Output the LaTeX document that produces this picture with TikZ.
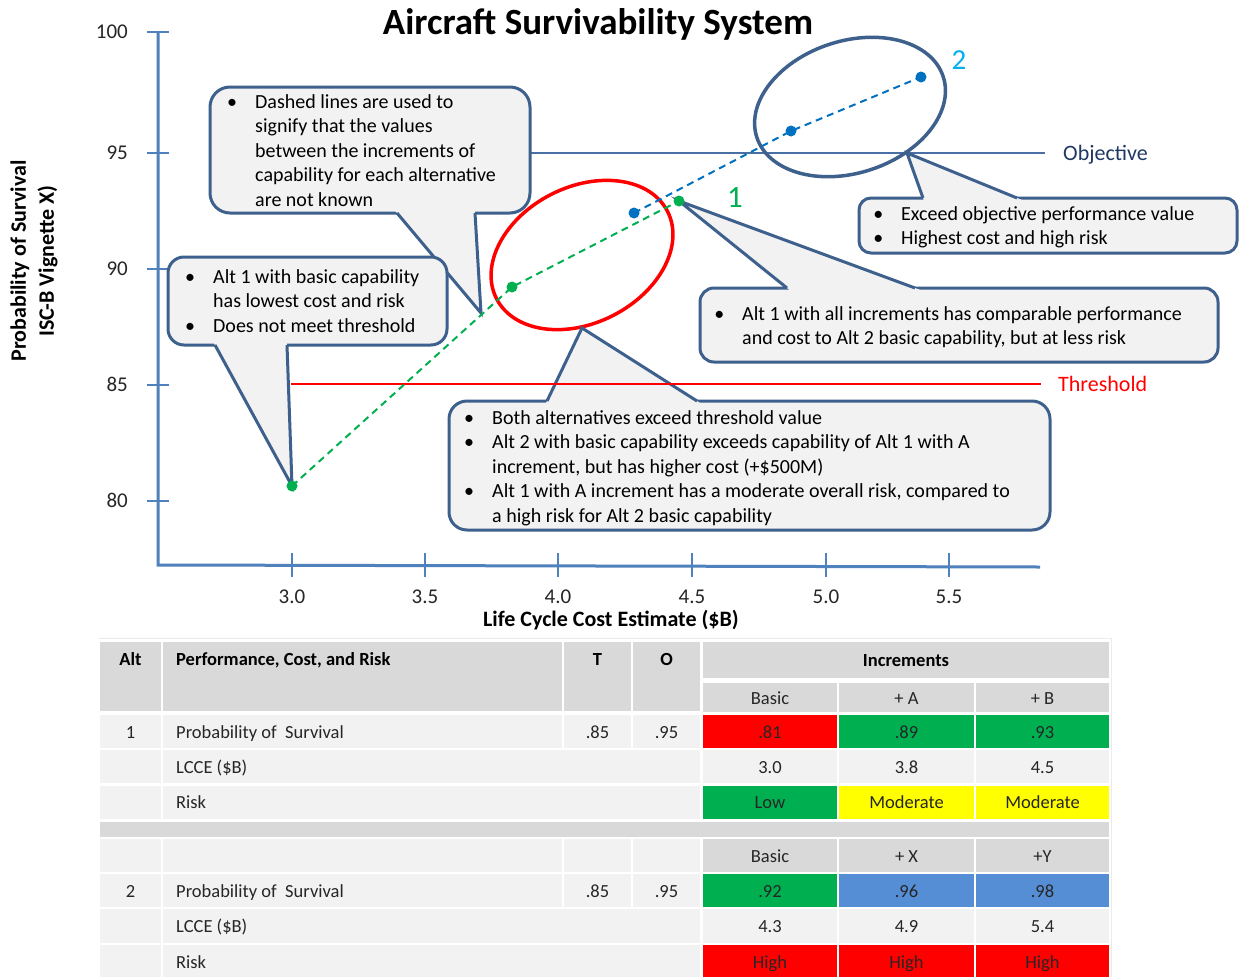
\documentclass[tikz,border=0pt]{standalone}
\usepackage{fontspec}
\setmainfont{Carlito}
\usetikzlibrary{calc}
\definecolor{cline}{RGB}{62,96,140}
\definecolor{cfill}{RGB}{242,242,242}
\definecolor{axisc}{RGB}{79,129,189}
\definecolor{objc}{RGB}{74,111,165}
\definecolor{navyc}{RGB}{31,56,100}
\definecolor{ggreen}{RGB}{0,176,80}
\definecolor{bblue}{RGB}{0,112,192}
\definecolor{cyanl}{RGB}{0,176,240}
\definecolor{hgray}{RGB}{217,217,217}
\definecolor{lgray}{RGB}{242,242,242}
\definecolor{tred}{RGB}{255,0,0}
\definecolor{tyel}{RGB}{255,255,0}
\definecolor{tblue}{RGB}{85,142,213}
\definecolor{txt}{RGB}{38,38,38}
\newcommand\cfs{\fontsize{20}{24.5}\selectfont}
\newcommand\tfs{\fontsize{18.5}{22}\selectfont}
\newcommand\bul{\llap{•\hspace{18pt}}}
\newcommand\pointer[3]{%
  \fill[cfill] ($(#2)!1.07!(#1)$) -- (#2) -- ($(#2)!1.07!(#3)$) -- cycle;
  \draw[cside] (#1) -- (#2) -- (#3);}
\begin{document}
\begin{tikzpicture}[x=1pt,y=-1pt,
  cbox/.style={draw=cline, fill=cfill, line width=3pt, inner sep=0pt},
  cside/.style={draw=cline, line width=3pt, line join=miter},
  ctext/.style={anchor=base west, inner sep=0pt, font=\cfs, text=black},
  axl/.style={draw=axisc, line width=3pt},
  tickm/.style={draw=axisc, line width=2.5pt},
  ticklab/.style={font=\fontsize{21}{24}\selectfont, text=txt, inner sep=0pt, text height=13pt, text depth=0pt},
  axtitle/.style={font=\bfseries\fontsize{22}{28}\selectfont, text=black, inner sep=0pt, align=center},
  gdash/.style={draw=ggreen, line width=2pt, dash pattern=on 7pt off 5pt},
  bdash/.style={draw=bblue, line width=2pt, dash pattern=on 7pt off 5pt},
  tt/.style={font=\tfs, text=txt, inner sep=0pt, text height=12pt, text depth=0pt},
  th/.style={font=\bfseries\tfs, text=black, inner sep=0pt, text height=12pt, text depth=0pt}]
\useasboundingbox (0,0) rectangle (1239,977);
\fill[white] (0,0) rectangle (1239,977);

% title
\node[font=\bfseries\fontsize{37}{40}\selectfont, anchor=base, inner sep=0pt] (title) at (598,34) {Aircraft Survivability System};

% axes
\coordinate (o) at (158,565);
\coordinate (ytop) at (158,32);
\coordinate (xend) at (1040,567);
\draw[axl] (ytop) -- (o) -- (xend);
\foreach \v/\y in {100/32,95/153,90/269,85/385,80/501}{
  \draw[tickm] (147,\y) -- (169,\y);
  \node[ticklab, anchor=east] (yl\v) at (128,\y) {\v};
}
\foreach \v/\x in {3.0/292,3.5/425,4.0/558,4.5/692,5.0/826,5.5/949}{
  \draw[tickm] (\x,553) -- (\x,577);
  \node[ticklab] (xl\v) at (\x,597) {\v};
}
\node[axtitle] (xtitle) at (611,620) {Life Cycle Cost Estimate (\$B)};
\node[axtitle, rotate=90] (ytitle) at (34,261) {Probability of Survival\\ISC-B Vignette X)};

% objective line
\coordinate (objL) at (530,153);
\coordinate (objR) at (1045,153);
\draw[draw=objc, line width=2pt] (objL) -- (objR);
\node[font=\fontsize{22}{26}\selectfont, text=navyc, anchor=base west, inner sep=0pt] (objlab) at (1063,160) {Objective};

% ellipses
\coordinate (ecR) at (582,255);
\coordinate (ecB) at (850,107);
\draw[draw=tred, line width=3.5pt, rotate around={27:(ecR)}] (ecR) ellipse [x radius=96pt, y radius=68pt];
\draw[draw=cline, line width=3.5pt, rotate around={18:(ecB)}] (ecB) ellipse [x radius=98pt, y radius=66pt];

% data coordinates
\coordinate (g1) at (292,486);
\coordinate (g2) at (512,287);
\coordinate (g3) at (679,201);
\coordinate (b1) at (634,213);
\coordinate (b2) at (791,131);
\coordinate (b3) at (921,77);

% callout A
\node[cbox, rounded corners=20pt, minimum width=320pt, minimum height=126pt] (cA) at (370,150) {};
\coordinate (pA1) at (397,213); \coordinate (tipA) at (481,313); \coordinate (pA2) at (475,213);
\pointer{pA1}{tipA}{pA2}
\node[ctext] (tA) at (255,108) {\begin{tabular}[t]{@{}l@{}}\bul Dashed lines are used to\\signify that the values\\between the increments of\\capability for each alternative\\are not known\end{tabular}};

% callout B
\node[cbox, rounded corners=16pt, minimum width=279pt, minimum height=88pt] (cB) at (307.5,301) {};
\coordinate (pB1) at (215,345); \coordinate (pB2) at (287,345);
\pointer{pB1}{g1}{pB2}
\node[ctext] (tB) at (213,283) {\begin{tabular}[t]{@{}l@{}}\bul Alt 1 with basic capability\\has lowest cost and risk\\\bul Does not meet threshold\end{tabular}};

% callout C
\node[cbox, rounded corners=18pt, minimum width=601pt, minimum height=129pt] (cC) at (749.5,465.5) {};
\coordinate (pC1) at (547,401); \coordinate (tipC) at (582,328); \coordinate (pC2) at (697,401);
\pointer{pC1}{tipC}{pC2}
\node[ctext] (tC) at (492,424) {\begin{tabular}[t]{@{}l@{}}\bul Both alternatives exceed threshold value\\\bul Alt 2 with basic capability exceeds capability of Alt 1 with A\\increment, but has higher cost (+\$500M)\\\bul Alt 1 with A increment has a moderate overall risk, compared to\\a high risk for Alt 2 basic capability\end{tabular}};

% callout D
\node[cbox, rounded corners=14pt, minimum width=518pt, minimum height=74pt] (cD) at (959,325) {};
\coordinate (pD1) at (787,288); \coordinate (pD2) at (915,288);
\pointer{pD1}{g3}{pD2}
\node[ctext] (tD) at (742,320) {\begin{tabular}[t]{@{}l@{}}\bul Alt 1 with all increments has comparable performance\\and cost to Alt 2 basic capability, but at less risk\end{tabular}};

% callout E
\node[cbox, rounded corners=12pt, minimum width=378pt, minimum height=55pt] (cE) at (1048,225.5) {};
\coordinate (pE1) at (923,198); \coordinate (tipE) at (907,153); \coordinate (pE2) at (1017,198);
\pointer{pE1}{tipE}{pE2}
\node[ctext] (tE) at (901,220) {\begin{tabular}[t]{@{}l@{}}\bul Exceed objective performance value\\\bul Highest cost and high risk\end{tabular}};

% threshold line
\coordinate (thL) at (291,384);
\coordinate (thR) at (1041,384);
\draw[draw=tred, line width=1.8pt] (thL) -- (thR);
\node[font=\fontsize{22}{26}\selectfont, text=tred, anchor=base west, inner sep=0pt] (thlab) at (1058,391) {Threshold};

% dashed series
\draw[gdash] (g1) -- (g2) -- (g3);
\draw[bdash] (b1) -- (b2) -- (b3);
\foreach \p in {g1,g2,g3}{\fill[ggreen] (\p) circle (5.5pt);}
\foreach \p in {b1,b2,b3}{\fill[bblue] (\p) circle (5.5pt);}
\node[font=\fontsize{31}{34}\selectfont, text=ggreen, inner sep=0pt] (lab1) at (735,198) {1};
\node[font=\fontsize{29}{32}\selectfont, text=cyanl, inner sep=0pt] (lab2) at (959,60) {2};

% ---------- table ----------
\draw[draw=black!8, line width=0.8pt] (99,638) -- (1111,638) -- (1111,977);
% header
\fill[hgray] (100,642) rectangle (161,711);
\fill[hgray] (163,642) rectangle (562,711);
\fill[hgray] (564,642) rectangle (631,711);
\fill[hgray] (633,642) rectangle (700,711);
\fill[hgray] (703,642) rectangle (1109,678);
\fill[hgray] (703,683) rectangle (837,712);
\fill[hgray] (839,683) rectangle (974,712);
\fill[hgray] (976,683) rectangle (1109,712);
% row 1
\fill[lgray] (100,715) rectangle (161,748);
\fill[lgray] (163,715) rectangle (562,748);
\fill[lgray] (564,715) rectangle (631,748);
\fill[lgray] (633,715) rectangle (700,748);
\fill[tred] (703,715) rectangle (837,748);
\fill[ggreen] (839,715) rectangle (974,748);
\fill[ggreen] (976,715) rectangle (1109,748);
% row 2
\fill[lgray] (100,750) rectangle (161,783);
\fill[lgray] (163,750) rectangle (700,783);
\fill[lgray] (703,750) rectangle (837,783);
\fill[lgray] (839,750) rectangle (974,783);
\fill[lgray] (976,750) rectangle (1109,783);
% row 3
\fill[lgray] (100,786) rectangle (161,819);
\fill[lgray] (163,786) rectangle (700,819);
\fill[ggreen] (703,786) rectangle (837,819);
\fill[tyel] (839,786) rectangle (974,819);
\fill[tyel] (976,786) rectangle (1109,819);
% separator
\fill[hgray] (100,822) rectangle (1109,837);
% row 4
\fill[lgray] (100,839) rectangle (161,872);
\fill[lgray] (163,839) rectangle (562,872);
\fill[lgray] (564,839) rectangle (631,872);
\fill[lgray] (633,839) rectangle (700,872);
\fill[hgray] (703,839) rectangle (837,872);
\fill[hgray] (839,839) rectangle (974,872);
\fill[hgray] (976,839) rectangle (1109,872);
% row 5
\fill[lgray] (100,874) rectangle (161,907);
\fill[lgray] (163,874) rectangle (562,907);
\fill[lgray] (564,874) rectangle (631,907);
\fill[lgray] (633,874) rectangle (700,907);
\fill[ggreen] (703,874) rectangle (837,907);
\fill[tblue] (839,874) rectangle (974,907);
\fill[tblue] (976,874) rectangle (1109,907);
% row 6
\fill[lgray] (100,909) rectangle (161,943);
\fill[lgray] (163,909) rectangle (700,943);
\fill[lgray] (703,909) rectangle (837,943);
\fill[lgray] (839,909) rectangle (974,943);
\fill[lgray] (976,909) rectangle (1109,943);
% row 7
\fill[lgray] (100,945) rectangle (161,977);
\fill[lgray] (163,945) rectangle (700,977);
\fill[tred] (703,945) rectangle (837,977);
\fill[tred] (839,945) rectangle (974,977);
\fill[tred] (976,945) rectangle (1109,977);

% table text
\node[th] (hAlt) at (130.5,659) {Alt};
\node[th, anchor=west] (hPerf) at (176,659) {Performance, Cost, and Risk};
\node[th] (hT) at (597.5,659) {T};
\node[th] (hO) at (666.5,659) {O};
\node[th] (hInc) at (906,660) {Increments};
\node[tt] (hB1) at (770,698) {Basic};
\node[tt] (hA1) at (906.5,698) {+ A};
\node[tt] (hBB) at (1042.5,698) {+ B};

\node[tt] (r1a) at (130.5,732) {1};
\node[tt, anchor=west] (r1p) at (176,732) {Probability of\ \ Survival};
\node[tt] (r1t) at (597.5,732) {.85};
\node[tt] (r1o) at (666.5,732) {.95};
\node[tt] (r1c1) at (770,732) {.81};
\node[tt] (r1c2) at (906.5,732) {.89};
\node[tt] (r1c3) at (1042.5,732) {.93};

\node[tt, anchor=west] (r2p) at (176,767) {LCCE (\$B)};
\node[tt] (r2c1) at (770,767) {3.0};
\node[tt] (r2c2) at (906.5,767) {3.8};
\node[tt] (r2c3) at (1042.5,767) {4.5};

\node[tt, anchor=west] (r3p) at (176,802) {Risk};
\node[tt] (r3c1) at (770,802) {Low};
\node[tt] (r3c2) at (906.5,802) {Moderate};
\node[tt] (r3c3) at (1042.5,802) {Moderate};

\node[tt] (r4c1) at (770,856) {Basic};
\node[tt] (r4c2) at (906.5,856) {+ X};
\node[tt] (r4c3) at (1042.5,856) {+Y};

\node[tt] (r5a) at (130.5,891) {2};
\node[tt, anchor=west] (r5p) at (176,891) {Probability of\ \ Survival};
\node[tt] (r5t) at (597.5,891) {.85};
\node[tt] (r5o) at (666.5,891) {.95};
\node[tt] (r5c1) at (770,891) {.92};
\node[tt] (r5c2) at (906.5,891) {.96};
\node[tt] (r5c3) at (1042.5,891) {.98};

\node[tt, anchor=west] (r6p) at (176,926) {LCCE (\$B)};
\node[tt] (r6c1) at (770,926) {4.3};
\node[tt] (r6c2) at (906.5,926) {4.9};
\node[tt] (r6c3) at (1042.5,926) {5.4};

\node[tt, anchor=west] (r7p) at (176,962) {Risk};
\node[tt] (r7c1) at (770,962) {High};
\node[tt] (r7c2) at (906.5,962) {High};
\node[tt] (r7c3) at (1042.5,962) {High};
\end{tikzpicture}
\end{document}
